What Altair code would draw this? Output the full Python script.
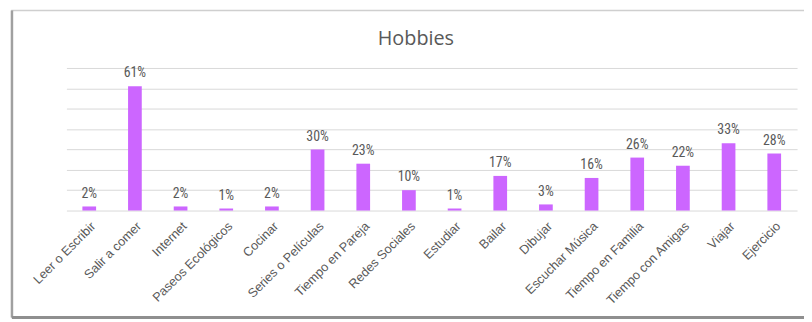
import altair as alt
import pandas as pd

title_text = "Hobbies"
categories = ["Leer o Escribir", "Salir a comer", "Internet", "Paseos Ecológicos", "Cocinar",
              "Series o Películas", "Tiempo en Pareja", "Redes Sociales", "Estudiar", "Bailar",
              "Dibujar", "Escuchar Música", "Tiempo en Familia", "Tiempo con Amigas", "Viajar",
              "Ejercicio"]
values = [2, 61, 2, 1, 2, 30, 23, 10, 1, 17, 3, 16, 26, 22, 33, 28]
y_ticks = [0, 10, 20, 30, 40, 50, 60, 70]

df = pd.DataFrame({"cat": categories, "v": values})
df["lbl"] = [f"{v}%" for v in values]

W, H = 738, 144

x_enc = alt.X("cat:N", sort=categories,
              scale=alt.Scale(paddingInner=0.7, paddingOuter=0.35),
              axis=alt.Axis(title=None, labelAngle=-45, domain=False, ticks=False,
                            labelFontSize=12.8, labelColor="#595959",
                            labelFont="Liberation Sans, Arial, sans-serif",
                            labelPadding=9, grid=False))
y_enc = alt.Y("v:Q", scale=alt.Scale(domain=[0, 70], nice=False),
              axis=alt.Axis(title=None, values=y_ticks, labels=False, ticks=False, domain=False,
                            grid=True, gridColor="#d9d9d9", gridWidth=1))

base = alt.Chart(df)
bars = base.mark_bar(color="#CC66FF").encode(x=x_enc, y=y_enc)
texts = base.mark_text(baseline="bottom", dy=-6, fontSize=14,
                       font="Liberation Sans Narrow, Roboto Condensed, Liberation Sans, sans-serif",
                       fontWeight="normal", color="#595959").encode(
    x=x_enc, y=y_enc, text="lbl:N")

frame_df = pd.DataFrame({"t": [title_text]})
frame = alt.Chart(frame_df).mark_rect(fill=None, stroke="#cfcfcf", strokeWidth=1.5).encode(
    x=alt.value(-55), x2=alt.value(800), y=alt.value(-58), y2=alt.value(252))
left_sh = alt.Chart(frame_df).mark_rule(stroke="#a0a0a0", strokeWidth=2.5).encode(
    x=alt.value(-55), y=alt.value(-58), y2=alt.value(252))
bottom_sh = alt.Chart(frame_df).mark_rule(stroke="#8f8f8f", strokeWidth=3).encode(
    x=alt.value(-55), x2=alt.value(800), y=alt.value(252))
title = alt.Chart(frame_df).mark_text(fontSize=20, font="Open Sans, Liberation Sans, sans-serif",
                                      color="#595959", align="center", baseline="alphabetic").encode(
    x=alt.value(353), y=alt.value(-23), text="t:N")

chart = alt.layer(frame, left_sh, bottom_sh, title, bars, texts).properties(
    width=W, height=H,
    padding={"left": 59, "top": 59, "right": 7, "bottom": 110},
    autosize=alt.AutoSizeParams(type="none"),
).configure(background="white").configure_view(stroke=None)

chart.save("out.html", embed_options={"renderer": "svg", "actions": False})
